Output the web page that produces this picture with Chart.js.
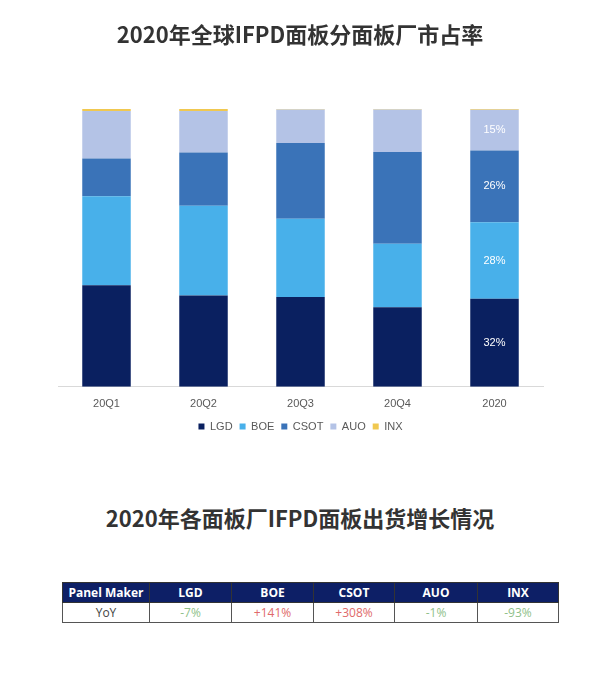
<!DOCTYPE html>
<html>
<head>
<meta charset="utf-8">
<script src="https://cdn.jsdelivr.net/npm/chart.js@4"></script>
<style>
  body { margin: 0; background: #fff; width: 600px; height: 688px; position: relative; overflow: hidden; }
  #wrap { position: absolute; left: 0; top: 0; width: 600px; height: 444px; }
  .ttl { position: absolute; left: 0; width: 600px; text-align: center; line-height: 30px;
    font-family: "Noto Sans CJK SC", sans-serif; font-weight: bold; font-size: 22px; color: #333; }
  #title1 { top: 18px; }
  #title2 { top: 502px; }
  table { position: absolute; left: 62px; top: 582px; border-collapse: collapse;
    font-family: "Open Sans", sans-serif; font-size: 12px; }
  th { background: #0d1f66; color: #fff; height: 19px; padding: 0; border: 1px solid #333; font-weight: bold; }
  td { height: 19px; padding: 0; border: 1px solid #555; text-align: center; color: #444; }
  .neg { color: #8fbf8a; }
  .pos { color: #e06a6a; }
</style>
</head>
<body>
<div id="wrap"><canvas id="myChart"></canvas></div>
<div class="ttl" id="title1">2020年全球IFPD面板分面板厂市占率</div>
<div class="ttl" id="title2">2020年各面板厂IFPD面板出货增长情况</div>
<table id="yoy"></table>
<script>
const periods = ["20Q1", "20Q2", "20Q3", "20Q4", "2020"];
const lgd  = [36.6, 32.9, 32.3, 28.6, 31.7];
const boe  = [32.0, 32.3, 28.2, 22.9, 27.5];
const csot = [13.6, 19.1, 27.3, 33.0, 25.9];
const auo  = [17.1, 15.0, 12.0, 15.3, 14.6];
const inx  = [0.7, 0.7, 0.2, 0.2, 0.3];

const makers = ["LGD", "BOE", "CSOT", "AUO", "INX"];
const yoy = [-7, 141, 308, -1, -93];

// labels only on the full-year bar
function pctLabels() {
  return {
    id: "pctLabels",
    afterDatasetsDraw(chart) {
      const ctx = chart.ctx;
      ctx.save();
      ctx.fillStyle = "#fff";
      ctx.font = "11px 'Liberation Sans', Arial, sans-serif";
      ctx.textAlign = "center";
      ctx.textBaseline = "middle";
      chart.data.datasets.forEach((ds, i) => {
        if (ds.label === "INX") return;
        const el = chart.getDatasetMeta(i).data[4];
        const v = ds.data[4];
        ctx.fillText(Math.round(v) + "%", el.x, (el.y + el.base) / 2);
      });
      ctx.restore();
    }
  };
}

const myChart = document.getElementById("myChart");
const shareChart = new Chart(myChart, {
  type: "bar",
  data: {
    labels: periods,
    datasets: [
      { label: "LGD", data: lgd, backgroundColor: "rgb(10, 32, 96)" },
      { label: "BOE", data: boe, backgroundColor: "rgb(72, 176, 234)" },
      { label: "CSOT", data: csot, backgroundColor: "rgb(58, 115, 184)" },
      { label: "AUO", data: auo, backgroundColor: "rgb(180, 195, 230)" },
      { label: "INX", data: inx, backgroundColor: "rgb(240, 200, 80)" },
    ],
  },
  options: {
    animation: false,
    responsive: true,
    maintainAspectRatio: false,
    layout: { padding: { left: 58, right: 57, top: 109, bottom: 2 } },
    datasets: { bar: { categoryPercentage: 1, barPercentage: 0.5 } },
    scales: {
      x: {
        stacked: true,
        grid: { display: false },
        border: { color: "#d9d9d9" },
        ticks: { color: "#595959", font: { size: 11, family: "'Liberation Sans', Arial" }, padding: 3 },
      },
      y: { stacked: true, display: false, min: 0, max: 100 },
    },
    plugins: {
      tooltip: { enabled: false },
      legend: {
        position: "bottom",
        labels: {
          boxWidth: 6, boxHeight: 6, padding: 7,
          color: "#595959",
          font: { size: 11, family: "'Liberation Sans', Arial" },
        },
      },
    },
  },
  plugins: [pctLabels()],
});

// growth table
const tbl = document.getElementById("yoy");
const widths = [86, 81, 81, 80, 82, 80];
let head = "<tr><th style='width:" + widths[0] + "px'>Panel Maker</th>";
makers.forEach((m, i) => { head += "<th style='width:" + widths[i + 1] + "px'>" + m + "</th>"; });
head += "</tr>";
let row = "<tr><td>YoY</td>";
yoy.forEach(v => {
  row += "<td class='" + (v < 0 ? "neg" : "pos") + "'>" + (v > 0 ? "+" : "") + v + "%</td>";
});
row += "</tr>";
tbl.innerHTML = head + row;
</script>
</body>
</html>
